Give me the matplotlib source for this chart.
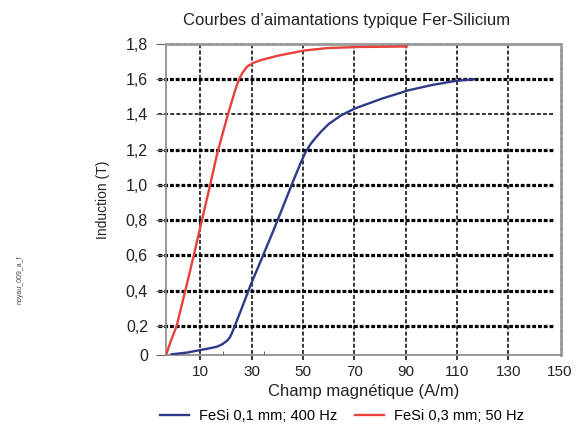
import numpy as np
import matplotlib
matplotlib.use('Agg')
import matplotlib.pyplot as plt
from matplotlib.transforms import ScaledTranslation

plt.rcParams['font.family'] = ['Liberation Sans', 'DejaVu Sans']

# FeSi 0,1 mm; 400 Hz (blue)
h_blue = [-1.1, 5, 10, 14, 16.5, 18.5, 20.5, 21.6, 22.4, 23.4, 24.4, 27, 29.6, 32.2, 35.5, 38.5, 41.4,
          44, 46.6, 49, 51, 53, 55, 57.1, 60, 64.9, 70.1, 80.6, 91.1, 100.2, 109.3, 116.7]
b_blue = [0.038, 0.048, 0.062, 0.073, 0.081, 0.094, 0.115, 0.135, 0.16, 0.195, 0.233, 0.33, 0.43, 0.52,
          0.635, 0.74, 0.845, 0.94, 1.035, 1.12, 1.185, 1.232, 1.268, 1.303, 1.345, 1.395, 1.433, 1.489,
          1.537, 1.567, 1.59, 1.6]

# FeSi 0,3 mm; 50 Hz (red)
h_red = [-3.3, -1.5, 0.86, 4.1, 7.4, 8.7, 10.7, 13.9, 16.5, 17.8, 19.1, 21.1, 23.7, 25.0, 26.4, 28.3,
         30.8, 33.5, 40.1, 50.5, 59.7, 71.5, 90.4]
b_red = [0.034, 0.11, 0.2, 0.393, 0.592, 0.675, 0.8, 1.0, 1.17, 1.24, 1.31, 1.415, 1.54, 1.595, 1.635,
         1.672, 1.693, 1.708, 1.733, 1.763, 1.777, 1.783, 1.786]

xticks = [10, 30, 50, 70, 90, 110, 130, 150]
yticks = [0.034, 0.2, 0.4, 0.6, 0.8, 1.0, 1.2, 1.4, 1.6, 1.8]
ylabels = ['0', '0,2', '0,4', '0,6', '0,8', '1,0', '1,2', '1,4', '1,6', '1,8']

# horizontal shift of each x tick label in the original (pixels)
xlabel_shift = [8, 2, 8, 9, 2, 7, 5, 1]

fig = plt.figure(figsize=(5.78, 4.24), dpi=100)
ax = fig.add_axes([166/578, 1-355/424, (561-166)/578, (355-44)/424])

ax.set_xlim(-3.3, 150.5)
ax.set_ylim(0.034, 1.8)

# grid
for x in xticks[:-1]:
    ax.axvline(x, ymin=-0.015, ymax=1, color='black', lw=1.1, ls=(0, (2.6, 1.4)), clip_on=False, zorder=1)
for y in yticks[1:-1]:
    if y == 1.4:
        ax.axhline(y, xmin=-0.02, xmax=0.98, color='black', lw=1.1, ls=(0, (2.6, 1.4)), clip_on=False, zorder=1)
    else:
        ax.axhline(y, xmin=-0.02, xmax=0.98, color='black', lw=2.3, ls=(0, (1.2, 0.6)), clip_on=False, zorder=1)

ax.plot(h_blue, b_blue, color='#2e3a86', lw=1.7, zorder=3, label='FeSi 0,1 mm; 400 Hz')
ax.plot(h_red, b_red, color='#e8403a', lw=1.7, zorder=3, label='FeSi 0,3 mm; 50 Hz')

for s in ['left', 'bottom']:
    ax.spines[s].set_color('#888888')
    ax.spines[s].set_linewidth(1.2)
for s in ['top', 'right']:
    ax.spines[s].set_color('#9a9a9a')
    ax.spines[s].set_linewidth(2)
    ax.spines[s].set_linestyle((0, (1.6, 0.7)))

ax.set_xticks(xticks)
ax.set_xticklabels([str(x) for x in xticks], fontsize=11, color='#222222')
for lab, dx in zip(ax.get_xticklabels(), xlabel_shift):
    lab.set_transform(lab.get_transform() + ScaledTranslation(dx/100, 0, fig.dpi_scale_trans))
ax.set_xticks([19, 34.8], minor=True)
ax.tick_params(axis='x', which='major', length=0, pad=7)
ax.tick_params(axis='x', which='minor', direction='in', length=3, color='#444444')
ax.set_yticks(yticks)
ax.set_yticklabels(ylabels, fontsize=11.5, color='#222222')
ax.tick_params(axis='y', length=7, color='#666666', pad=6)

ax.set_xlabel('Champ magnétique (A/m)', fontsize=12, color='#222222', labelpad=4)
ax.set_ylabel('Induction (T)', fontsize=10, color='#222222', labelpad=11)

fig.text(347/578, 1-20/424, 'Courbes d\u2019aimantations typique Fer-Silicium', ha='center', va='center',
         fontsize=12, color='#222222')
fig.text(20/578, 1-280/424, 'noyau_009_a_f', rotation=90, ha='center', va='center', fontsize=5, color='#444444')

fig.legend(loc='center', bbox_to_anchor=(342/578, 1-416/424), ncol=2, frameon=False,
           fontsize=10.5, handlelength=2.0, columnspacing=1.2, handletextpad=0.7)

fig.savefig('out.png', dpi=100)
